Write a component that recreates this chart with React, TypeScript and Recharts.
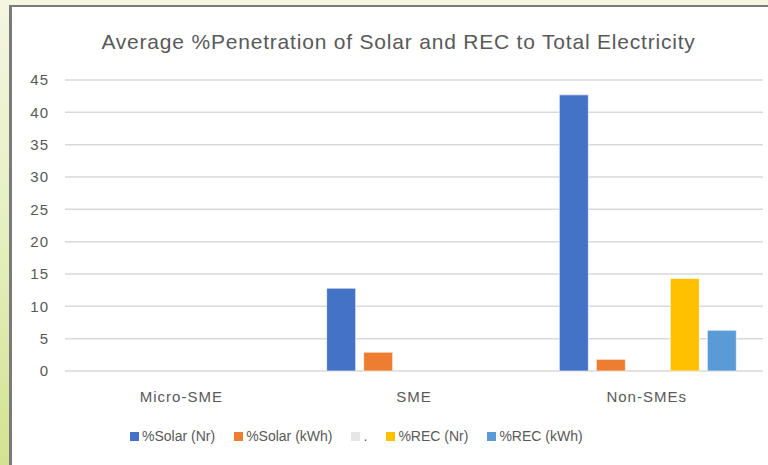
import { BarChart, Bar, XAxis, YAxis, CartesianGrid } from 'recharts';

const categories = ['Micro-SME', 'SME', 'Non-SMEs'];
const solarNr = [null, 12.8, 42.7];
const solarKwh = [null, 2.9, 1.8];
const dotSeries = [null, null, null];
const recNr = [null, null, 14.3];
const recKwh = [null, null, 6.3];
const yTicks = [0, 5, 10, 15, 20, 25, 30, 35, 40, 45];

const series = [
  { key: 'solarNr', name: '%Solar (Nr)', color: '#4472C4' },
  { key: 'solarKwh', name: '%Solar (kWh)', color: '#ED7D31' },
  { key: 'dot', name: '.', color: '#E7E6E6' },
  { key: 'recNr', name: '%REC (Nr)', color: '#FFC000' },
  { key: 'recKwh', name: '%REC (kWh)', color: '#5B9BD5' }
];

const data = categories.map((c, i) => ({
  category: c,
  solarNr: solarNr[i],
  solarKwh: solarKwh[i],
  dot: dotSeries[i],
  recNr: recNr[i],
  recKwh: recKwh[i]
}));

const font = '"Liberation Sans", Arial, sans-serif';
const textColor = '#595959';

function LegendRow() {
  return (
    <div
      style={{
        position: 'absolute',
        left: 130,
        top: 428,
        display: 'flex',
        fontFamily: font,
        fontSize: 14,
        color: textColor
      }}
    >
      {series.map((s) => (
        <span
          key={s.key}
          style={{ display: 'inline-flex', alignItems: 'center', marginRight: 19 }}
        >
          <span
            style={{
              width: 9,
              height: 9,
              background: s.color,
              display: 'inline-block',
              marginRight: 3
            }}
          />
          {s.name}
        </span>
      ))}
    </div>
  );
}

export default function App() {
  return (
    <div
      style={{
        position: 'fixed',
        left: 0,
        top: 0,
        width: 768,
        height: 465,
        overflow: 'hidden',
        background: 'linear-gradient(180deg, #f4f6e2 0%, #e6efc0 50%, #d3e291 100%)'
      }}
    >
      <div
        style={{
          position: 'absolute',
          left: 9,
          top: 5,
          width: 780,
          height: 480,
          background: '#ffffff',
          borderLeft: '3px solid #7a7a7a',
          borderTop: '2px solid #7a7a7a'
        }}
      />
      <div
        style={{
          position: 'absolute',
          left: 0,
          top: 30,
          width: 797,
          textAlign: 'center',
          fontFamily: font,
          fontSize: 21,
          letterSpacing: 0.8,
          color: textColor
        }}
      >
        Average %Penetration of Solar and REC to Total Electricity
      </div>
      <div style={{ position: 'absolute', left: 0, top: 0 }}>
        <BarChart
          width={768}
          height={465}
          data={data}
          margin={{ top: 80, right: 5, bottom: 0, left: 10 }}
          barCategoryGap={29}
          barGap={8}
        >
          <CartesianGrid vertical={false} stroke="#d9d9d9" strokeWidth={1.5} />
          <XAxis
            dataKey="category"
            axisLine={false}
            tickLine={false}
            tickMargin={14}
            height={94}
            tick={{ fill: textColor, fontSize: 15, fontFamily: font, letterSpacing: 1 }}
          />
          <YAxis
            domain={[0, 45]}
            ticks={yTicks}
            width={55}
            axisLine={false}
            tickLine={false}
            tickSize={0}
            tickMargin={16}
            tick={{ fill: textColor, fontSize: 15, fontFamily: font, letterSpacing: 1 }}
          />
          {series.map((s) => (
            <Bar
              key={s.key}
              dataKey={s.key}
              name={s.name}
              fill={s.color}
              stroke="#ffffff"
              strokeOpacity={0.6}
              strokeWidth={1}
              isAnimationActive={false}
            />
          ))}
        </BarChart>
      </div>
      <LegendRow />
    </div>
  );
}
